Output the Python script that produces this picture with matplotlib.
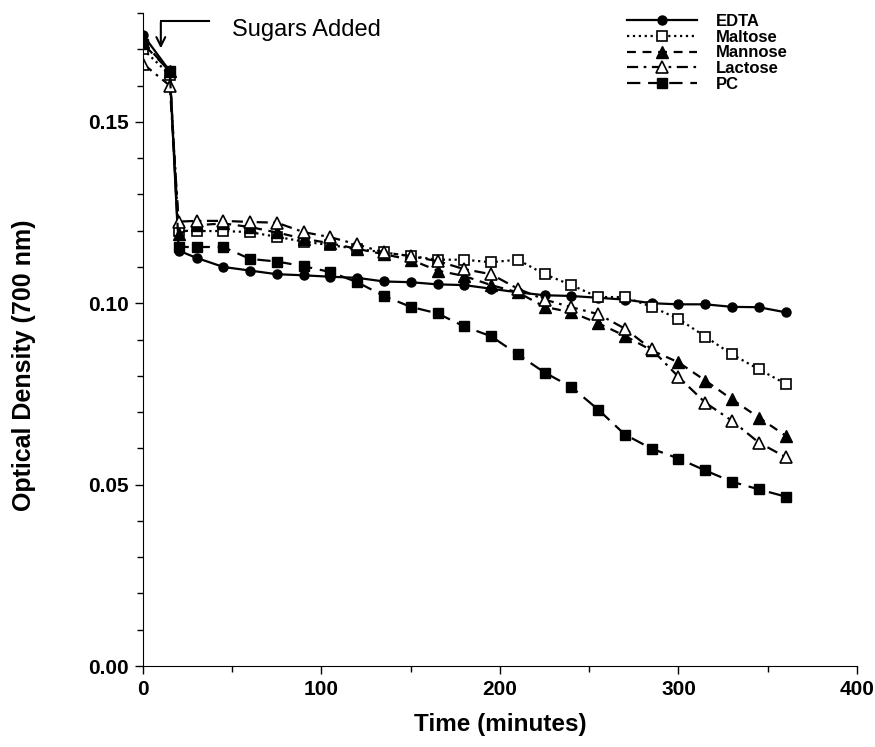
import matplotlib
matplotlib.use('Agg')
import matplotlib.pyplot as plt
from matplotlib.ticker import MultipleLocator, FormatStrFormatter

plt.rcParams['font.family'] = ['Liberation Sans', 'DejaVu Sans']
plt.rcParams['font.weight'] = 'bold'

# sampling times (minutes)
time = [0, 15, 20, 30, 45, 60, 75, 90, 105, 120, 135, 150, 165, 180, 195,
        210, 225, 240, 255, 270, 285, 300, 315, 330, 345, 360]

# optical density at 700 nm
edta = [0.174, 0.164, 0.1145, 0.1125, 0.110, 0.109, 0.108, 0.1077, 0.1073, 0.107,
        0.106, 0.1058, 0.1052, 0.105, 0.104, 0.103, 0.1022, 0.102, 0.1015, 0.101,
        0.100, 0.0997, 0.0997, 0.099, 0.0989, 0.0975]
maltose = [0.170, 0.163, 0.120, 0.1199, 0.1199, 0.1196, 0.1183, 0.117, 0.116, 0.115,
           0.114, 0.113, 0.112, 0.112, 0.1113, 0.112, 0.108, 0.105, 0.1017, 0.1017,
           0.099, 0.0957, 0.0908, 0.0859, 0.0818, 0.0778]
mannose = [0.172, 0.164, 0.119, 0.1215, 0.122, 0.121, 0.1195, 0.1178, 0.1165, 0.115,
           0.1135, 0.112, 0.109, 0.1075, 0.105, 0.103, 0.099, 0.0975, 0.0945, 0.091,
           0.087, 0.0837, 0.0787, 0.0735, 0.0685, 0.0635]
lactose = [0.166, 0.160, 0.1225, 0.1227, 0.1227, 0.1224, 0.1222, 0.1196, 0.1182, 0.1162,
           0.114, 0.113, 0.1116, 0.1094, 0.108, 0.104, 0.101, 0.0989, 0.097, 0.093,
           0.0873, 0.0797, 0.0726, 0.0676, 0.0616, 0.0576]
pc = [0.1715, 0.164, 0.1155, 0.1155, 0.1155, 0.1122, 0.1115, 0.1102, 0.1086, 0.1058,
      0.102, 0.099, 0.0972, 0.0936, 0.0909, 0.0859, 0.0809, 0.0769, 0.0707, 0.0638,
      0.0599, 0.0572, 0.0539, 0.0508, 0.0487, 0.0467]

fig = plt.figure(figsize=(8.75, 7.47), dpi=100)
ax = fig.add_axes([0.1634, 0.1084, 0.816, 0.8742])

lw = 1.6
ms = 7
ax.plot(time, edta, color='k', lw=lw, ls='-', marker='o', ms=ms - 0.5, label='EDTA')
ax.plot(time, maltose, color='k', lw=lw, ls=':', marker='s', ms=ms - 0.5,
        mfc='white', mec='k', mew=1.2, label='Maltose')
ax.plot(time, mannose, color='k', lw=lw, ls='--', dashes=(4, 3), marker='^', ms=ms + 1,
        label='Mannose')
ax.plot(time, lactose, color='k', lw=lw, ls='-.', dashes=(5, 2.5, 1.2, 2.5), marker='^',
        ms=ms + 1, mfc='white', mec='k', mew=1.2, label='Lactose')
ax.plot(time, pc, color='k', lw=lw, ls='--', dashes=(6, 3.5), marker='s', ms=ms - 0.5,
        label='PC')

# arrow marking when the sugars were added
ax.plot([10, 37], [0.1778, 0.1778], color='k', lw=1.5, clip_on=False)
ax.annotate('', xy=(10, 0.1695), xytext=(10, 0.1782),
            arrowprops=dict(arrowstyle='->', color='k', lw=1.5, mutation_scale=16),
            annotation_clip=False)
ax.text(50, 0.1754, 'Sugars Added', fontsize=17, fontweight='normal', va='center', ha='left')

ax.set_xlim(0, 400)
ax.set_ylim(0, 0.18)
ax.xaxis.set_major_locator(MultipleLocator(100))
ax.xaxis.set_minor_locator(MultipleLocator(50))
ax.yaxis.set_major_locator(MultipleLocator(0.05))
ax.yaxis.set_minor_locator(MultipleLocator(0.01))
ax.yaxis.set_major_formatter(FormatStrFormatter('%.2f'))
ax.tick_params(which='major', direction='out', length=6, width=1, labelsize=15, pad=4)
ax.tick_params(which='minor', direction='out', length=4, width=1)
ax.spines['top'].set_visible(False)
ax.spines['right'].set_visible(False)
ax.yaxis.set_ticks([0, 0.05, 0.10, 0.15])

ax.set_xlabel('Time (minutes)', fontsize=17.5, fontweight='bold', labelpad=10)
ax.set_ylabel('Optical Density (700 nm)', fontsize=18, fontweight='bold')
ax.yaxis.set_label_coords(-0.150, 0.46)

leg = ax.legend(loc='upper right', bbox_to_anchor=(0.912, 1.009), frameon=False, fontsize=12,
                handlelength=4.2, handletextpad=1.1, labelspacing=0.05, borderaxespad=0.0)

fig.savefig('out.png', dpi=100)
